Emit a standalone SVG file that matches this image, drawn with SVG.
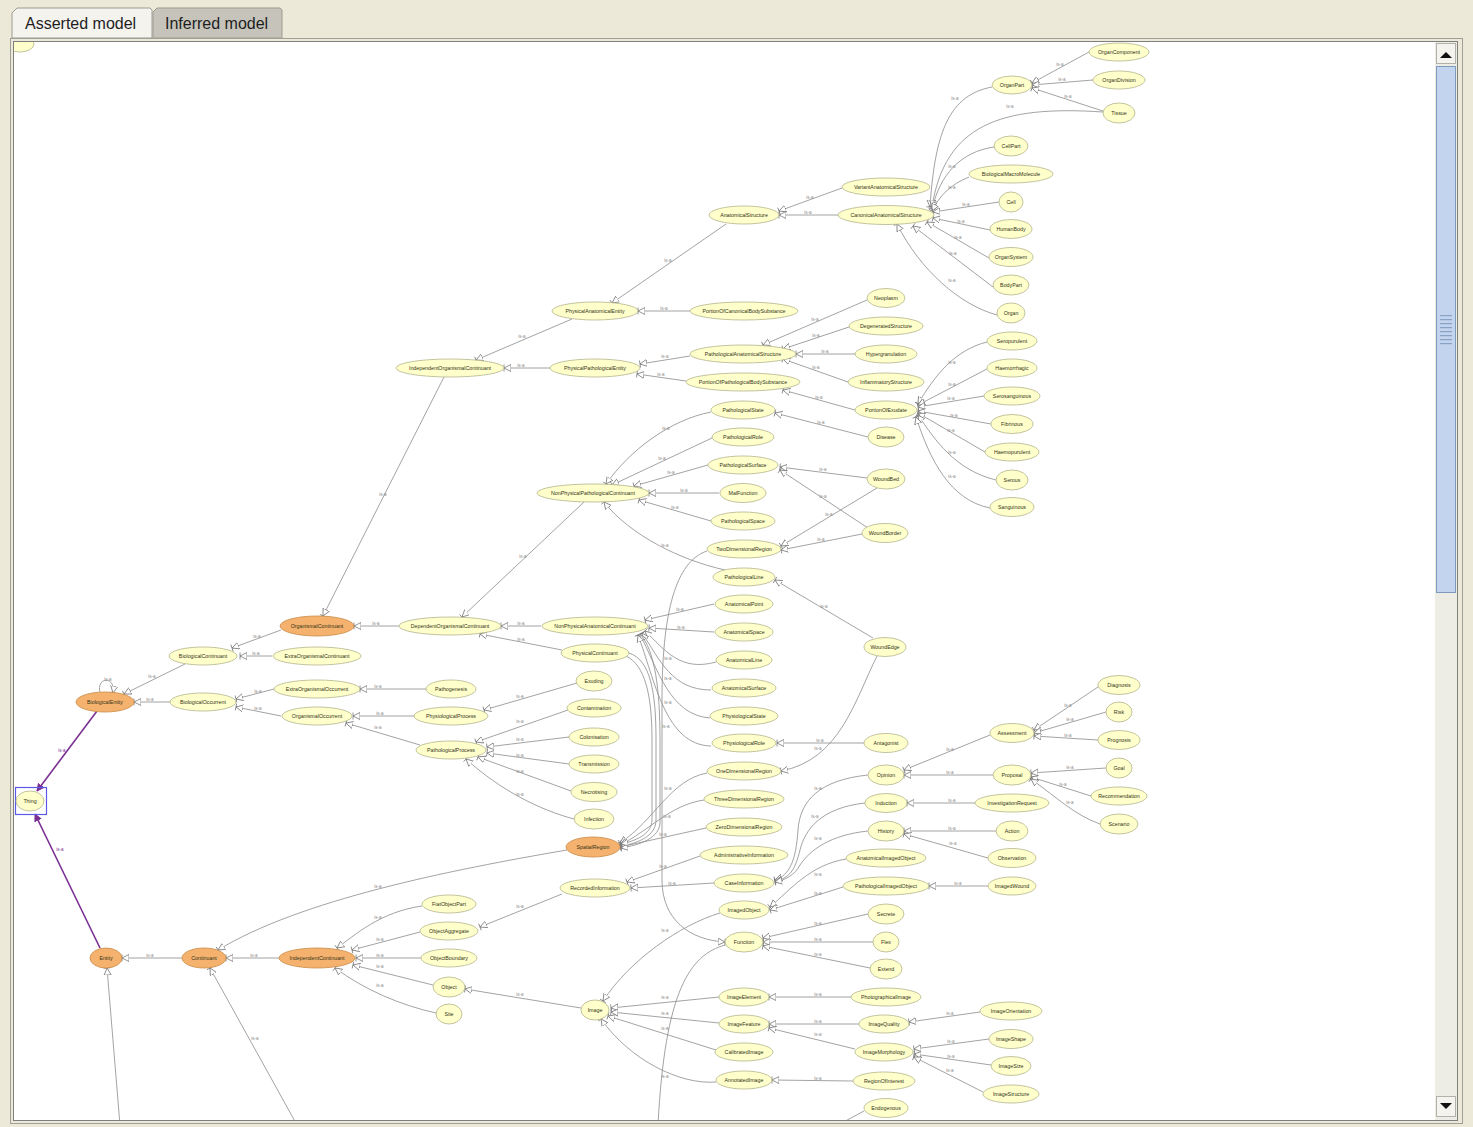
<svg xmlns="http://www.w3.org/2000/svg" width="1473" height="1127" viewBox="0 0 1473 1127">
<style>
.n{fill:#FFFFCC;stroke:#B4B48C;stroke-width:0.8}
.o{fill:#F5B26E;stroke:#C98A46;stroke-width:0.8}
.t{font-family:"Liberation Sans",Arial,sans-serif;font-size:5.3px;fill:#333318;text-anchor:middle}
.e{fill:none;stroke:#8C8C8C;stroke-width:0.8;marker-end:url(#tri)}
.p{fill:none;stroke:#7A2F92;stroke-width:1.6;marker-end:url(#ptri)}
.l{font-family:"Liberation Sans",Arial,sans-serif;font-size:4.5px;fill:#8A8A8A;text-anchor:middle}
.tab{font-family:"Liberation Sans",Arial,sans-serif;font-size:16px;fill:#1E1E1E}
</style>
<defs>
<marker id="tri" markerUnits="userSpaceOnUse" markerWidth="9" markerHeight="9" refX="7" refY="4" orient="auto">
<path d="M0,0.5 L7,4 L0,7.5 z M7,0.5 L7,7.5" fill="#FFFFFF" stroke="#7A7A7A" stroke-width="0.8"/>
</marker>
<marker id="ptri" markerUnits="userSpaceOnUse" markerWidth="9" markerHeight="9" refX="7" refY="4" orient="auto">
<path d="M0,0.5 L7,4 L0,7.5 z" fill="#7A2F92" stroke="#7A2F92" stroke-width="0.8"/>
</marker>
<clipPath id="cv"><rect x="14" y="42" width="1420" height="1078"/></clipPath>
</defs>

<!-- window chrome -->
<rect x="0" y="0" width="1473" height="1127" fill="#ECE9D8"/>
<g id="tabs">
<path d="M12,38 L12,13 L17,8 L150,8 L152,10 L152,38 Z" fill="#F4F3EE" stroke="#9C9B92" stroke-width="1"/>
<path d="M153,38 L153,12 L157,8 L280,8 L282,10 L282,38 Z" fill="#C6C4BA" stroke="#9C9B92" stroke-width="1"/>
<text class="tab" x="25" y="29">Asserted model</text>
<text class="tab" x="165" y="29">Inferred model</text>
</g>
<rect x="10.5" y="38.5" width="1452" height="1085" fill="none" stroke="#A09F98" stroke-width="1"/>
<rect x="13.5" y="41.5" width="1444" height="1079" fill="#FFFFFF" stroke="#7F7F7F" stroke-width="1"/>
<g id="scrollbar">
<rect x="1435" y="42" width="22" height="1078" fill="#EEEDE5"/>
<rect x="1436.5" y="43.5" width="19" height="20" fill="#F4F3EE" stroke="#B3B2AA"/>
<path d="M1440,58 L1446,52 L1452,58 Z" fill="#111"/>
<rect x="1436.5" y="66.5" width="19" height="526" fill="#C2D4EE" stroke="#7E9BBE"/>
<g fill="#8AA2C4">
<rect x="1440" y="315" width="12" height="1.2"/><rect x="1440" y="319" width="12" height="1.2"/><rect x="1440" y="323" width="12" height="1.2"/><rect x="1440" y="327" width="12" height="1.2"/><rect x="1440" y="331" width="12" height="1.2"/><rect x="1440" y="335" width="12" height="1.2"/><rect x="1440" y="339" width="12" height="1.2"/><rect x="1440" y="343" width="12" height="1.2"/>
</g>
<rect x="1436.5" y="1096.5" width="19" height="20" fill="#F4F3EE" stroke="#B3B2AA"/>
<path d="M1440,1103 L1446,1109 L1452,1103 Z" fill="#111"/>
</g>

<g id="connectors" clip-path="url(#cv)">
<path class="e" d="M1089,52 L1032,83"/>
<path class="e" d="M1093,80 L1032,85"/>
<path class="e" d="M1103,111 L1032,88"/>
<path class="e" d="M992,87 C950,95 935,130 930,207"/>
<path class="e" d="M1103,112 C1000,105 945,125 932,207"/>
<path class="e" d="M994,147 C960,152 940,175 932,209"/>
<path class="e" d="M969,177 C950,185 940,195 932,211"/>
<path class="e" d="M999,202 L933,212"/>
<path class="e" d="M990,230 L933,218"/>
<path class="e" d="M989,258 L927,222"/>
<path class="e" d="M993,287 L913,226"/>
<path class="e" d="M997,315 C960,305 920,270 897,224"/>
<path class="e" d="M842,188 L779,211"/>
<path class="e" d="M838,215 L779,215"/>
<path class="e" d="M726,224 L612,303"/>
<path class="e" d="M690,311 L638,311"/>
<path class="e" d="M572,319 L476,360"/>
<path class="e" d="M550,368 L504,368"/>
<path class="e" d="M867,300 L763,345"/>
<path class="e" d="M849,327 L783,349"/>
<path class="e" d="M855,354 L796,354"/>
<path class="e" d="M848,382 L783,359"/>
<path class="e" d="M690,356 L640,364"/>
<path class="e" d="M686,381 L637,374"/>
<path class="e" d="M855,410 L783,390"/>
<path class="e" d="M987,342 C955,350 935,375 918,404"/>
<path class="e" d="M987,369 L918,405"/>
<path class="e" d="M984,396 L918,407"/>
<path class="e" d="M991,424 L918,411"/>
<path class="e" d="M985,452 L918,413"/>
<path class="e" d="M996,480 C955,470 935,440 918,415"/>
<path class="e" d="M990,508 C950,500 930,460 916,417"/>
<path class="e" d="M868,437 L775,413"/>
<path class="e" d="M711,412 C670,420 630,450 606,484"/>
<path class="e" d="M712,438 L612,485"/>
<path class="e" d="M708,465 L634,486"/>
<path class="e" d="M719,493 L649,493"/>
<path class="e" d="M711,521 L639,500"/>
<path class="e" d="M867,478 L780,467"/>
<path class="e" d="M868,528 L780,470"/>
<path class="e" d="M877,488 L781,546"/>
<path class="e" d="M862,534 L781,550"/>
<path class="e" d="M725,570 C680,560 630,535 604,502"/>
<path class="e" d="M873,638 L775,580"/>
<path class="e" d="M877,656 C855,700 840,760 781,771"/>
<path class="e" d="M444,377 L323,616"/>
<path class="e" d="M584,502 L462,617"/>
<path class="e" d="M399,626 L354,626"/>
<path class="e" d="M541,626 L501,626"/>
<path class="e" d="M562,650 L480,634"/>
<path class="e" d="M714,604 L645,620"/>
<path class="e" d="M714,632 L649,628"/>
<path class="e" d="M716,662 C680,672 665,650 645,631"/>
<path class="e" d="M711,690 C672,690 660,660 642,633"/>
<path class="e" d="M710,718 C670,715 658,670 640,634"/>
<path class="e" d="M711,746 C665,745 655,680 638,635"/>
<path class="e" d="M864,743 L777,743"/>
<path class="e" d="M707,773 C670,780 655,820 620,843"/>
<path class="e" d="M704,800 C670,805 650,830 620,845"/>
<path class="e" d="M706,828 L620,847"/>
<path class="e" d="M707,551 C680,560 662,600 662,700 L662,880 C662,920 690,940 725,942"/>
<path class="e" d="M629,653 C650,660 656,690 656,740 L656,820 C656,835 640,843 621,846" stroke="#666" stroke-width="1.2"/>
<path class="e" d="M640,634 C655,650 660,690 660,740 L660,822 C660,838 640,845 621,848" stroke="#666" stroke-width="1.2"/>
<path class="e" d="M626,656 C645,665 652,695 652,740 L652,820 C652,832 640,840 621,844" stroke="#777"/>
<path class="e" d="M700,856 L627,882"/>
<path class="e" d="M714,883 L631,888"/>
<path class="e" d="M868,775 C820,780 800,800 798,830 C796,860 790,875 775,880" stroke="#666"/>
<path class="e" d="M865,803 C820,808 805,830 800,850 C795,870 790,878 775,881" stroke="#666"/>
<path class="e" d="M868,831 C830,835 810,850 800,865 C795,875 785,880 775,882" stroke="#666"/>
<path class="e" d="M846,859 C810,865 790,890 770,907"/>
<path class="e" d="M843,887 L770,910"/>
<path class="e" d="M988,886 L929,886"/>
<path class="e" d="M868,914 L763,938"/>
<path class="e" d="M873,942 L763,942"/>
<path class="e" d="M870,968 L763,946"/>
<path class="e" d="M720,913 C680,925 630,960 603,1001"/>
<path class="e" d="M725,945 C690,955 665,990 658,1125" style="marker-end:none"/>
<path class="e" d="M864,1111 L838,1125" style="marker-end:none"/>
<path class="e" d="M990,735 L904,770"/>
<path class="e" d="M993,775 L904,775"/>
<path class="e" d="M1098,687 L1034,730"/>
<path class="e" d="M1106,712 L1034,733"/>
<path class="e" d="M1098,740 L1034,736"/>
<path class="e" d="M1106,768 L1031,773"/>
<path class="e" d="M1091,796 L1031,777"/>
<path class="e" d="M1100,824 C1075,815 1060,800 1031,779"/>
<path class="e" d="M975,803 L907,803"/>
<path class="e" d="M996,831 L904,831"/>
<path class="e" d="M988,858 L904,834"/>
<path class="e" d="M272,656 L240,656"/>
<path class="e" d="M281,630 L232,648"/>
<path class="e" d="M185,664 L124,694"/>
<path class="e" d="M170,702 L134,702"/>
<path class="e" d="M274,689 L236,699"/>
<path class="e" d="M281,716 L236,707"/>
<path class="e" d="M426,689 L360,689"/>
<path class="e" d="M414,716 L353,716"/>
<path class="e" d="M420,745 L346,723"/>
<path class="e" d="M577,683 L484,710"/>
<path class="e" d="M568,710 L476,742"/>
<path class="e" d="M569,737 L487,747"/>
<path class="e" d="M569,764 L487,753"/>
<path class="e" d="M571,791 L478,757"/>
<path class="e" d="M574,819 C540,810 500,790 466,759"/>
<path class="e" d="M100,693 C96,676 116,676 113,693"/>
<path class="p" d="M97,711 L37,791"/>
<path class="p" d="M100,948 L35,814"/>
<path class="e" d="M182,958 L122,958"/>
<path class="e" d="M279,958 L226,958"/>
<path class="e" d="M567,850 C450,870 300,900 218,950"/>
<path class="e" d="M422,906 C380,912 355,935 337,948"/>
<path class="e" d="M420,932 L352,950"/>
<path class="e" d="M421,958 L356,958"/>
<path class="e" d="M433,985 L353,965"/>
<path class="e" d="M436,1013 C400,1005 365,990 335,968"/>
<path class="e" d="M581,1008 L465,989"/>
<path class="e" d="M562,894 L480,927"/>
<path class="e" d="M719,997 L611,1008"/>
<path class="e" d="M719,1023 L611,1012"/>
<path class="e" d="M716,1050 L608,1016"/>
<path class="e" d="M716,1082 C680,1085 630,1060 601,1019"/>
<path class="e" d="M851,997 L769,997"/>
<path class="e" d="M859,1024 L769,1024"/>
<path class="e" d="M855,1049 L769,1028"/>
<path class="e" d="M980,1012 L909,1022"/>
<path class="e" d="M989,1039 L914,1049"/>
<path class="e" d="M991,1065 L914,1054"/>
<path class="e" d="M983,1092 L914,1057"/>
<path class="e" d="M853,1081 L772,1080"/>
<path class="e" d="M120,1125 L107,968"/>
<path class="e" d="M297,1125 L210,968"/>
<g id="edge-labels">
<text class="l" x="1060" y="66">is-a</text><text class="l" x="1062" y="81">is-a</text><text class="l" x="1068" y="98">is-a</text>
<text class="l" x="955" y="100">is-a</text><text class="l" x="1010" y="108">is-a</text><text class="l" x="952" y="168">is-a</text>
<text class="l" x="952" y="189">is-a</text><text class="l" x="966" y="206">is-a</text><text class="l" x="961" y="223">is-a</text>
<text class="l" x="958" y="239">is-a</text><text class="l" x="953" y="255">is-a</text><text class="l" x="952" y="282">is-a</text>
<text class="l" x="810" y="199">is-a</text><text class="l" x="808" y="214">is-a</text><text class="l" x="668" y="262">is-a</text>
<text class="l" x="664" y="310">is-a</text><text class="l" x="522" y="338">is-a</text><text class="l" x="521" y="367">is-a</text>
<text class="l" x="815" y="321">is-a</text><text class="l" x="816" y="337">is-a</text><text class="l" x="825" y="353">is-a</text>
<text class="l" x="816" y="369">is-a</text><text class="l" x="665" y="358">is-a</text><text class="l" x="661" y="376">is-a</text>
<text class="l" x="819" y="399">is-a</text><text class="l" x="952" y="364">is-a</text><text class="l" x="952" y="386">is-a</text>
<text class="l" x="951" y="400">is-a</text><text class="l" x="954" y="417">is-a</text><text class="l" x="951" y="432">is-a</text>
<text class="l" x="952" y="454">is-a</text><text class="l" x="952" y="478">is-a</text><text class="l" x="821" y="424">is-a</text>
<text class="l" x="666" y="430">is-a</text><text class="l" x="662" y="460">is-a</text><text class="l" x="671" y="474">is-a</text>
<text class="l" x="684" y="492">is-a</text><text class="l" x="675" y="509">is-a</text><text class="l" x="823" y="471">is-a</text>
<text class="l" x="823" y="498">is-a</text><text class="l" x="829" y="516">is-a</text><text class="l" x="821" y="541">is-a</text>
<text class="l" x="665" y="547">is-a</text><text class="l" x="824" y="608">is-a</text><text class="l" x="818" y="750">is-a</text>
<text class="l" x="383" y="496">is-a</text><text class="l" x="523" y="558">is-a</text><text class="l" x="376" y="625">is-a</text>
<text class="l" x="521" y="625">is-a</text><text class="l" x="521" y="641">is-a</text><text class="l" x="680" y="611">is-a</text>
<text class="l" x="681" y="629">is-a</text><text class="l" x="668" y="660">is-a</text><text class="l" x="668" y="680">is-a</text>
<text class="l" x="668" y="704">is-a</text><text class="l" x="666" y="728">is-a</text><text class="l" x="820" y="742">is-a</text>
<text class="l" x="668" y="790">is-a</text><text class="l" x="667" y="818">is-a</text><text class="l" x="663" y="836">is-a</text>
<text class="l" x="663" y="868">is-a</text><text class="l" x="672" y="885">is-a</text><text class="l" x="818" y="790">is-a</text>
<text class="l" x="815" y="818">is-a</text><text class="l" x="818" y="840">is-a</text><text class="l" x="818" y="876">is-a</text>
<text class="l" x="818" y="895">is-a</text><text class="l" x="958" y="885">is-a</text><text class="l" x="818" y="925">is-a</text>
<text class="l" x="818" y="941">is-a</text><text class="l" x="818" y="956">is-a</text><text class="l" x="665" y="932">is-a</text>
<text class="l" x="950" y="751">is-a</text><text class="l" x="950" y="774">is-a</text><text class="l" x="1068" y="707">is-a</text>
<text class="l" x="1070" y="721">is-a</text><text class="l" x="1068" y="737">is-a</text><text class="l" x="1070" y="769">is-a</text>
<text class="l" x="1063" y="786">is-a</text><text class="l" x="1070" y="804">is-a</text><text class="l" x="952" y="802">is-a</text>
<text class="l" x="952" y="830">is-a</text><text class="l" x="953" y="845">is-a</text><text class="l" x="256" y="655">is-a</text>
<text class="l" x="257" y="638">is-a</text><text class="l" x="152" y="678">is-a</text><text class="l" x="150" y="701">is-a</text>
<text class="l" x="258" y="693">is-a</text><text class="l" x="258" y="710">is-a</text><text class="l" x="378" y="688">is-a</text>
<text class="l" x="380" y="715">is-a</text><text class="l" x="378" y="729">is-a</text><text class="l" x="520" y="698">is-a</text>
<text class="l" x="520" y="723">is-a</text><text class="l" x="520" y="741">is-a</text><text class="l" x="520" y="757">is-a</text>
<text class="l" x="520" y="773">is-a</text><text class="l" x="520" y="796">is-a</text><text class="l" x="108" y="681">is-a</text>
<text class="l" x="62" y="752" style="fill:#7A2F92">is-a</text><text class="l" x="60" y="851" style="fill:#7A2F92">is-a</text>
<text class="l" x="150" y="957">is-a</text><text class="l" x="254" y="957">is-a</text><text class="l" x="378" y="888">is-a</text>
<text class="l" x="378" y="919">is-a</text><text class="l" x="380" y="941">is-a</text><text class="l" x="380" y="957">is-a</text>
<text class="l" x="380" y="968">is-a</text><text class="l" x="380" y="987">is-a</text><text class="l" x="520" y="996">is-a</text>
<text class="l" x="520" y="908">is-a</text><text class="l" x="665" y="999">is-a</text><text class="l" x="665" y="1015">is-a</text>
<text class="l" x="665" y="1030">is-a</text><text class="l" x="665" y="1078">is-a</text><text class="l" x="818" y="996">is-a</text>
<text class="l" x="818" y="1023">is-a</text><text class="l" x="818" y="1036">is-a</text><text class="l" x="950" y="1015">is-a</text>
<text class="l" x="951" y="1043">is-a</text><text class="l" x="951" y="1058">is-a</text><text class="l" x="950" y="1072">is-a</text>
<text class="l" x="818" y="1080">is-a</text><text class="l" x="255" y="1040">is-a</text>
</g>
</g>

<g id="nodes" clip-path="url(#cv)">
<g id="n-partial"><ellipse class="n" cx="20" cy="44" rx="14" ry="8"/></g>
<g id="n-OrganComponent"><ellipse class="n" cx="1119" cy="52" rx="30" ry="9"/><text class="t" x="1119" y="54">OrganComponent</text></g>
<g id="n-OrganPart"><ellipse class="n" cx="1012" cy="85" rx="20" ry="9"/><text class="t" x="1012" y="87">OrganPart</text></g>
<g id="n-OrganDivision"><ellipse class="n" cx="1119" cy="80" rx="26" ry="9"/><text class="t" x="1119" y="82">OrganDivision</text></g>
<g id="n-Tissue"><ellipse class="n" cx="1119" cy="113" rx="16" ry="10"/><text class="t" x="1119" y="115">Tissue</text></g>
<g id="n-CellPart"><ellipse class="n" cx="1011" cy="146" rx="17" ry="10"/><text class="t" x="1011" y="148">CellPart</text></g>
<g id="n-BiologicalMacroMolecule"><ellipse class="n" cx="1011" cy="174" rx="42" ry="9"/><text class="t" x="1011" y="176">BiologicalMacroMolecule</text></g>
<g id="n-Cell"><ellipse class="n" cx="1011" cy="202" rx="12" ry="10"/><text class="t" x="1011" y="204">Cell</text></g>
<g id="n-HumanBody"><ellipse class="n" cx="1011" cy="229" rx="21" ry="9.5"/><text class="t" x="1011" y="231">HumanBody</text></g>
<g id="n-OrganSystem"><ellipse class="n" cx="1011" cy="257" rx="22" ry="9.5"/><text class="t" x="1011" y="259">OrganSystem</text></g>
<g id="n-BodyPart"><ellipse class="n" cx="1011" cy="285" rx="18" ry="10"/><text class="t" x="1011" y="287">BodyPart</text></g>
<g id="n-Organ"><ellipse class="n" cx="1011" cy="313" rx="14" ry="10"/><text class="t" x="1011" y="315">Organ</text></g>
<g id="n-VariantAnatomicalStructure"><ellipse class="n" cx="886" cy="187" rx="44" ry="9"/><text class="t" x="886" y="189">VariantAnatomicalStructure</text></g>
<g id="n-CanonicalAnatomicalStructure"><ellipse class="n" cx="886" cy="215" rx="48" ry="9.5"/><text class="t" x="886" y="217">CanonicalAnatomicalStructure</text></g>
<g id="n-AnatomicalStructure"><ellipse class="n" cx="744" cy="215" rx="35" ry="9"/><text class="t" x="744" y="217">AnatomicalStructure</text></g>
<g id="n-PhysicalAnatomicalEntity"><ellipse class="n" cx="595" cy="311" rx="43" ry="9"/><text class="t" x="595" y="313">PhysicalAnatomicalEntity</text></g>
<g id="n-PortionOfCanonicalBodySubstance"><ellipse class="n" cx="744" cy="311" rx="54" ry="9"/><text class="t" x="744" y="313">PortionOfCanonicalBodySubstance</text></g>
<g id="n-Neoplasm"><ellipse class="n" cx="886" cy="298" rx="19" ry="9.5"/><text class="t" x="886" y="300">Neoplasm</text></g>
<g id="n-DegeneratedStructure"><ellipse class="n" cx="886" cy="326" rx="37" ry="9"/><text class="t" x="886" y="328">DegeneratedStructure</text></g>
<g id="n-Hypergranulation"><ellipse class="n" cx="886" cy="354" rx="31" ry="9"/><text class="t" x="886" y="356">Hypergranulation</text></g>
<g id="n-InflammatoryStructure"><ellipse class="n" cx="886" cy="382" rx="38" ry="9"/><text class="t" x="886" y="384">InflammatoryStructure</text></g>
<g id="n-PathologicalAnatomicalStructure"><ellipse class="n" cx="743" cy="354" rx="53" ry="9"/><text class="t" x="743" y="356">PathologicalAnatomicalStructure</text></g>
<g id="n-PortionOfPathologicalBodySubstance"><ellipse class="n" cx="743" cy="382" rx="57" ry="9"/><text class="t" x="743" y="384">PortionOfPathologicalBodySubstance</text></g>
<g id="n-IndependentOrganismalContinuant"><ellipse class="n" cx="450" cy="368" rx="54" ry="9"/><text class="t" x="450" y="370">IndependentOrganismalContinuant</text></g>
<g id="n-PhysicalPathologicalEntity"><ellipse class="n" cx="595" cy="368" rx="45" ry="9"/><text class="t" x="595" y="370">PhysicalPathologicalEntity</text></g>
<g id="n-PortionOfExudate"><ellipse class="n" cx="886" cy="410" rx="31" ry="9"/><text class="t" x="886" y="412">PortionOfExudate</text></g>
<g id="n-Seropurulent"><ellipse class="n" cx="1012" cy="341" rx="25" ry="9"/><text class="t" x="1012" y="343">Seropurulent</text></g>
<g id="n-Haemorrhagic"><ellipse class="n" cx="1012" cy="368" rx="25" ry="9"/><text class="t" x="1012" y="370">Haemorrhagic</text></g>
<g id="n-Serosanguinous"><ellipse class="n" cx="1012" cy="396" rx="28" ry="9"/><text class="t" x="1012" y="398">Serosanguinous</text></g>
<g id="n-Fibrinous"><ellipse class="n" cx="1012" cy="424" rx="21" ry="9.5"/><text class="t" x="1012" y="426">Fibrinous</text></g>
<g id="n-Haemopurulent"><ellipse class="n" cx="1012" cy="452" rx="27" ry="9"/><text class="t" x="1012" y="454">Haemopurulent</text></g>
<g id="n-Serous"><ellipse class="n" cx="1012" cy="480" rx="16" ry="10"/><text class="t" x="1012" y="482">Serous</text></g>
<g id="n-Sanguinous"><ellipse class="n" cx="1012" cy="507" rx="22" ry="9.5"/><text class="t" x="1012" y="509">Sanguinous</text></g>
<g id="n-PathologicalState"><ellipse class="n" cx="743" cy="410" rx="32" ry="9"/><text class="t" x="743" y="412">PathologicalState</text></g>
<g id="n-Disease"><ellipse class="n" cx="886" cy="437" rx="18" ry="10"/><text class="t" x="886" y="439">Disease</text></g>
<g id="n-PathologicalRole"><ellipse class="n" cx="743" cy="437" rx="31" ry="9"/><text class="t" x="743" y="439">PathologicalRole</text></g>
<g id="n-PathologicalSurface"><ellipse class="n" cx="743" cy="465" rx="35" ry="9"/><text class="t" x="743" y="467">PathologicalSurface</text></g>
<g id="n-MalFunction"><ellipse class="n" cx="743" cy="493" rx="23" ry="9.5"/><text class="t" x="743" y="495">MalFunction</text></g>
<g id="n-PathologicalSpace"><ellipse class="n" cx="743" cy="521" rx="32" ry="9"/><text class="t" x="743" y="523">PathologicalSpace</text></g>
<g id="n-NonPhysicalPathologicalContinuant"><ellipse class="n" cx="593" cy="493" rx="56" ry="9"/><text class="t" x="593" y="495">NonPhysicalPathologicalContinuant</text></g>
<g id="n-WoundBed"><ellipse class="n" cx="886" cy="479" rx="19" ry="10"/><text class="t" x="886" y="481">WoundBed</text></g>
<g id="n-WoundBorder"><ellipse class="n" cx="885" cy="533" rx="23" ry="9.5"/><text class="t" x="885" y="535">WoundBorder</text></g>
<g id="n-TwoDimensionalRegion"><ellipse class="n" cx="744" cy="549" rx="37" ry="9"/><text class="t" x="744" y="551">TwoDimensionalRegion</text></g>
<g id="n-PathologicalLine"><ellipse class="n" cx="744" cy="577" rx="31" ry="9"/><text class="t" x="744" y="579">PathologicalLine</text></g>
<g id="n-WoundEdge"><ellipse class="n" cx="885" cy="647" rx="21" ry="9.5"/><text class="t" x="885" y="649">WoundEdge</text></g>
<g id="n-AnatomicalPoint"><ellipse class="n" cx="744" cy="604" rx="29" ry="9"/><text class="t" x="744" y="606">AnatomicalPoint</text></g>
<g id="n-AnatomicalSpace"><ellipse class="n" cx="744" cy="632" rx="29" ry="9"/><text class="t" x="744" y="634">AnatomicalSpace</text></g>
<g id="n-AnatomicalLine"><ellipse class="n" cx="744" cy="660" rx="28" ry="9"/><text class="t" x="744" y="662">AnatomicalLine</text></g>
<g id="n-AnatomicalSurface"><ellipse class="n" cx="744" cy="688" rx="32" ry="9"/><text class="t" x="744" y="690">AnatomicalSurface</text></g>
<g id="n-PhysiologicalState"><ellipse class="n" cx="744" cy="716" rx="34" ry="9"/><text class="t" x="744" y="718">PhysiologicalState</text></g>
<g id="n-PhysiologicalRole"><ellipse class="n" cx="744" cy="743" rx="32" ry="9"/><text class="t" x="744" y="745">PhysiologicalRole</text></g>
<g id="n-Antagonist"><ellipse class="n" cx="886" cy="743" rx="22" ry="9.5"/><text class="t" x="886" y="745">Antagonist</text></g>
<g id="n-OneDimensionalRegion"><ellipse class="n" cx="744" cy="771" rx="37" ry="9"/><text class="t" x="744" y="773">OneDimensionalRegion</text></g>
<g id="n-ThreeDimensionalRegion"><ellipse class="n" cx="744" cy="799" rx="40" ry="9"/><text class="t" x="744" y="801">ThreeDimensionalRegion</text></g>
<g id="n-ZeroDimensionalRegion"><ellipse class="n" cx="744" cy="827" rx="38" ry="9"/><text class="t" x="744" y="829">ZeroDimensionalRegion</text></g>
<g id="n-AdministrativeInformation"><ellipse class="n" cx="744" cy="855" rx="44" ry="9"/><text class="t" x="744" y="857">AdministrativeInformation</text></g>
<g id="n-CaseInformation"><ellipse class="n" cx="744" cy="883" rx="30" ry="9"/><text class="t" x="744" y="885">CaseInformation</text></g>
<g id="n-ImagedObject"><ellipse class="n" cx="744" cy="910" rx="25" ry="9"/><text class="t" x="744" y="912">ImagedObject</text></g>
<g id="n-Function"><ellipse class="n" cx="744" cy="942" rx="19" ry="10"/><text class="t" x="744" y="944">Function</text></g>
<g id="n-Secrete"><ellipse class="n" cx="886" cy="914" rx="18" ry="10"/><text class="t" x="886" y="916">Secrete</text></g>
<g id="n-Flex"><ellipse class="n" cx="886" cy="942" rx="13" ry="10"/><text class="t" x="886" y="944">Flex</text></g>
<g id="n-Extend"><ellipse class="n" cx="886" cy="969" rx="16" ry="10"/><text class="t" x="886" y="971">Extend</text></g>
<g id="n-AnatomicalImagedObject"><ellipse class="n" cx="886" cy="858" rx="40" ry="9"/><text class="t" x="886" y="860">AnatomicalImagedObject</text></g>
<g id="n-PathologicalImagedObject"><ellipse class="n" cx="886" cy="886" rx="43" ry="9"/><text class="t" x="886" y="888">PathologicalImagedObject</text></g>
<g id="n-ImagedWound"><ellipse class="n" cx="1012" cy="886" rx="24" ry="9"/><text class="t" x="1012" y="888">ImagedWound</text></g>
<g id="n-Opinion"><ellipse class="n" cx="886" cy="775" rx="18" ry="10"/><text class="t" x="886" y="777">Opinion</text></g>
<g id="n-Induction"><ellipse class="n" cx="886" cy="803" rx="21" ry="9.5"/><text class="t" x="886" y="805">Induction</text></g>
<g id="n-History"><ellipse class="n" cx="886" cy="831" rx="18" ry="10"/><text class="t" x="886" y="833">History</text></g>
<g id="n-Proposal"><ellipse class="n" cx="1012" cy="775" rx="19" ry="10"/><text class="t" x="1012" y="777">Proposal</text></g>
<g id="n-InvestigationRequest"><ellipse class="n" cx="1012" cy="803" rx="37" ry="9"/><text class="t" x="1012" y="805">InvestigationRequest</text></g>
<g id="n-Action"><ellipse class="n" cx="1012" cy="831" rx="16" ry="10"/><text class="t" x="1012" y="833">Action</text></g>
<g id="n-Observation"><ellipse class="n" cx="1012" cy="858" rx="24" ry="9.5"/><text class="t" x="1012" y="860">Observation</text></g>
<g id="n-Assessment"><ellipse class="n" cx="1012" cy="733" rx="22" ry="9.5"/><text class="t" x="1012" y="735">Assessment</text></g>
<g id="n-Diagnosis"><ellipse class="n" cx="1119" cy="685" rx="21" ry="9.5"/><text class="t" x="1119" y="687">Diagnosis</text></g>
<g id="n-Risk"><ellipse class="n" cx="1119" cy="712" rx="13" ry="10"/><text class="t" x="1119" y="714">Risk</text></g>
<g id="n-Prognosis"><ellipse class="n" cx="1119" cy="740" rx="21" ry="9.5"/><text class="t" x="1119" y="742">Prognosis</text></g>
<g id="n-Goal"><ellipse class="n" cx="1119" cy="768" rx="13" ry="10"/><text class="t" x="1119" y="770">Goal</text></g>
<g id="n-Recommendation"><ellipse class="n" cx="1119" cy="796" rx="28" ry="9"/><text class="t" x="1119" y="798">Recommendation</text></g>
<g id="n-Scenario"><ellipse class="n" cx="1119" cy="824" rx="19" ry="10"/><text class="t" x="1119" y="826">Scenario</text></g>
<g id="n-NonPhysicalAnatomicalContinuant"><ellipse class="n" cx="595" cy="626" rx="53" ry="9"/><text class="t" x="595" y="628">NonPhysicalAnatomicalContinuant</text></g>
<g id="n-PhysicalContinuant"><ellipse class="n" cx="595" cy="653" rx="34" ry="9"/><text class="t" x="595" y="655">PhysicalContinuant</text></g>
<g id="n-DependentOrganismalContinuant"><ellipse class="n" cx="450" cy="626" rx="51" ry="9"/><text class="t" x="450" y="628">DependentOrganismalContinuant</text></g>
<g id="n-OrganismalContinuant"><ellipse class="o" cx="317" cy="626" rx="37" ry="10"/><text class="t" x="317" y="628">OrganismalContinuant</text></g>
<g id="n-BiologicalContinuant"><ellipse class="n" cx="203" cy="656" rx="34" ry="9"/><text class="t" x="203" y="658">BiologicalContinuant</text></g>
<g id="n-ExtraOrganismalContinuant"><ellipse class="n" cx="317" cy="656" rx="44" ry="9"/><text class="t" x="317" y="658">ExtraOrganismalContinuant</text></g>
<g id="n-BiologicalEntity"><ellipse class="o" cx="105" cy="702" rx="29" ry="10"/><text class="t" x="105" y="704">BiologicalEntity</text></g>
<g id="n-BiologicalOccurrent"><ellipse class="n" cx="203" cy="702" rx="33" ry="9"/><text class="t" x="203" y="704">BiologicalOccurrent</text></g>
<g id="n-ExtraOrganismalOccurrent"><ellipse class="n" cx="317" cy="689" rx="43" ry="9"/><text class="t" x="317" y="691">ExtraOrganismalOccurrent</text></g>
<g id="n-OrganismalOccurrent"><ellipse class="n" cx="317" cy="716" rx="35" ry="9"/><text class="t" x="317" y="718">OrganismalOccurrent</text></g>
<g id="n-Pathogenesis"><ellipse class="n" cx="451" cy="689" rx="25" ry="9"/><text class="t" x="451" y="691">Pathogenesis</text></g>
<g id="n-PhysiologicalProcess"><ellipse class="n" cx="451" cy="716" rx="37" ry="9"/><text class="t" x="451" y="718">PhysiologicalProcess</text></g>
<g id="n-PathologicalProcess"><ellipse class="n" cx="451" cy="750" rx="35" ry="9"/><text class="t" x="451" y="752">PathologicalProcess</text></g>
<g id="n-Exuding"><ellipse class="n" cx="594" cy="681" rx="18" ry="10"/><text class="t" x="594" y="683">Exuding</text></g>
<g id="n-Contamination"><ellipse class="n" cx="594" cy="708" rx="27" ry="9"/><text class="t" x="594" y="710">Contamination</text></g>
<g id="n-Colonisation"><ellipse class="n" cx="594" cy="737" rx="25" ry="9"/><text class="t" x="594" y="739">Colonisation</text></g>
<g id="n-Transmission"><ellipse class="n" cx="594" cy="764" rx="25" ry="9"/><text class="t" x="594" y="766">Transmission</text></g>
<g id="n-Necrotising"><ellipse class="n" cx="594" cy="792" rx="23" ry="9.5"/><text class="t" x="594" y="794">Necrotising</text></g>
<g id="n-Infection"><ellipse class="n" cx="594" cy="819" rx="20" ry="10"/><text class="t" x="594" y="821">Infection</text></g>
<g id="n-SpatialRegion"><ellipse class="o" cx="593" cy="847" rx="27" ry="10"/><text class="t" x="593" y="849">SpatialRegion</text></g>
<g id="n-RecordedInformation"><ellipse class="n" cx="595" cy="888" rx="35" ry="9"/><text class="t" x="595" y="890">RecordedInformation</text></g>
<g id="n-Thing"><rect x="15.5" y="787.5" width="31" height="27" fill="none" stroke="#5A5AE6" stroke-width="1.2"/><ellipse class="n" cx="30" cy="801" rx="14" ry="10"/><text class="t" x="30" y="803">Thing</text></g>
<g id="n-Entity"><ellipse class="o" cx="106" cy="958" rx="16" ry="10"/><text class="t" x="106" y="960">Entity</text></g>
<g id="n-Continuant"><ellipse class="o" cx="204" cy="958" rx="22" ry="10"/><text class="t" x="204" y="960">Continuant</text></g>
<g id="n-IndependentContinuant"><ellipse class="o" cx="317" cy="958" rx="38" ry="10"/><text class="t" x="317" y="960">IndependentContinuant</text></g>
<g id="n-FiatObjectPart"><ellipse class="n" cx="449" cy="904" rx="27" ry="9"/><text class="t" x="449" y="906">FiatObjectPart</text></g>
<g id="n-ObjectAggregate"><ellipse class="n" cx="449" cy="931" rx="29" ry="9"/><text class="t" x="449" y="933">ObjectAggregate</text></g>
<g id="n-ObjectBoundary"><ellipse class="n" cx="449" cy="958" rx="28" ry="9"/><text class="t" x="449" y="960">ObjectBoundary</text></g>
<g id="n-Object"><ellipse class="n" cx="449" cy="987" rx="16" ry="10"/><text class="t" x="449" y="989">Object</text></g>
<g id="n-Site"><ellipse class="n" cx="449" cy="1014" rx="13" ry="10"/><text class="t" x="449" y="1016">Site</text></g>
<g id="n-Image"><ellipse class="n" cx="595" cy="1010" rx="14" ry="10"/><text class="t" x="595" y="1012">Image</text></g>
<g id="n-ImageElement"><ellipse class="n" cx="744" cy="997" rx="25" ry="9"/><text class="t" x="744" y="999">ImageElement</text></g>
<g id="n-PhotographicalImage"><ellipse class="n" cx="886" cy="997" rx="35" ry="9"/><text class="t" x="886" y="999">PhotographicalImage</text></g>
<g id="n-ImageFeature"><ellipse class="n" cx="744" cy="1024" rx="25" ry="9"/><text class="t" x="744" y="1026">ImageFeature</text></g>
<g id="n-ImageQuality"><ellipse class="n" cx="884" cy="1024" rx="25" ry="9"/><text class="t" x="884" y="1026">ImageQuality</text></g>
<g id="n-ImageOrientation"><ellipse class="n" cx="1011" cy="1011" rx="31" ry="9"/><text class="t" x="1011" y="1013">ImageOrientation</text></g>
<g id="n-ImageShape"><ellipse class="n" cx="1011" cy="1039" rx="22" ry="9.5"/><text class="t" x="1011" y="1041">ImageShape</text></g>
<g id="n-ImageSize"><ellipse class="n" cx="1011" cy="1066" rx="20" ry="9.5"/><text class="t" x="1011" y="1068">ImageSize</text></g>
<g id="n-ImageMorphology"><ellipse class="n" cx="884" cy="1052" rx="29" ry="9"/><text class="t" x="884" y="1054">ImageMorphology</text></g>
<g id="n-ImageStructure"><ellipse class="n" cx="1011" cy="1094" rx="28" ry="9"/><text class="t" x="1011" y="1096">ImageStructure</text></g>
<g id="n-CalibratedImage"><ellipse class="n" cx="744" cy="1052" rx="29" ry="9"/><text class="t" x="744" y="1054">CalibratedImage</text></g>
<g id="n-AnnotatedImage"><ellipse class="n" cx="744" cy="1080" rx="28" ry="9"/><text class="t" x="744" y="1082">AnnotatedImage</text></g>
<g id="n-RegionOfInterest"><ellipse class="n" cx="884" cy="1081" rx="31" ry="9"/><text class="t" x="884" y="1083">RegionOfInterest</text></g>
<g id="n-Endogenous"><ellipse class="n" cx="886" cy="1108" rx="22" ry="9.5"/><text class="t" x="886" y="1110">Endogenous</text></g>
</g>
</svg>
